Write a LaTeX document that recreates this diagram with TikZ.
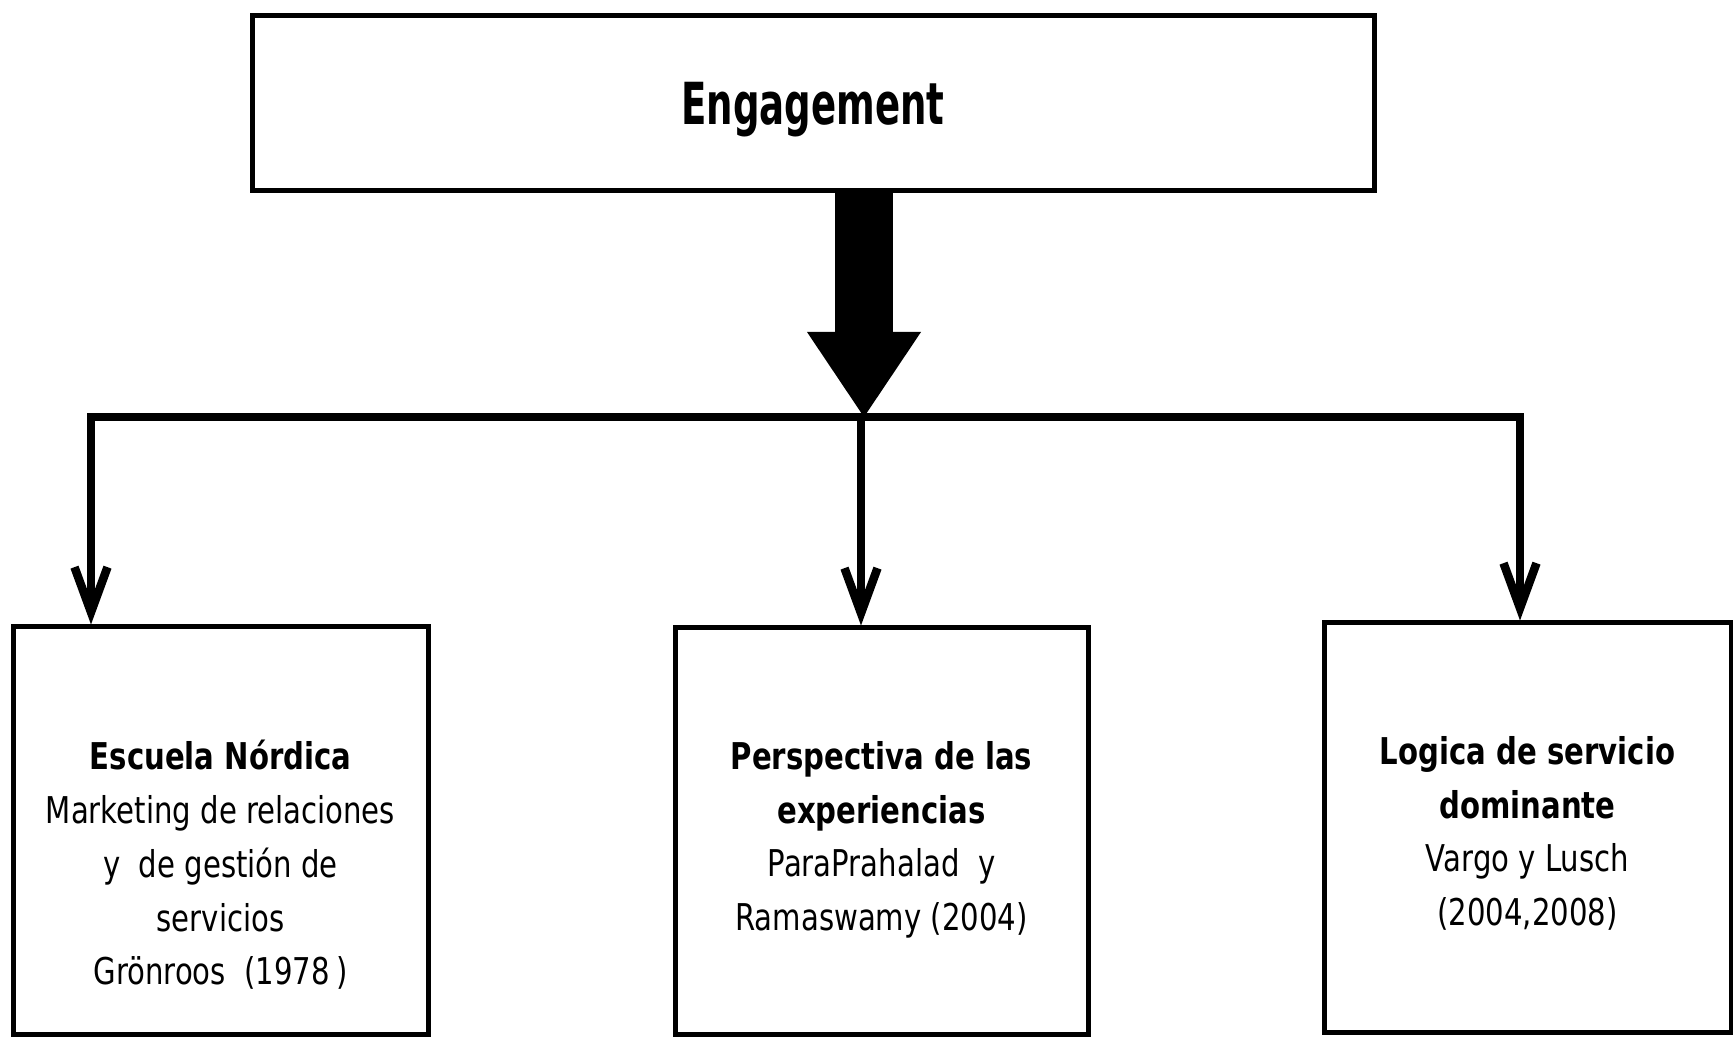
\documentclass[tikz,border=0pt]{standalone}
\usepackage{fontspec}
\newfontfamily\boxfont[FakeStretch=0.79]{DejaVu Sans}
\newfontfamily\titlefont[FakeStretch=0.64]{DejaVu Sans}
\usetikzlibrary{positioning,arrows.meta}
\begin{document}
\begin{tikzpicture}[x=0.1mm, y=-0.1mm,
  box/.style={draw, line width=0.5mm, inner sep=0pt},
  boxtext/.style={font=\boxfont\fontsize{10.5}{15.3}\selectfont, align=center, inner sep=0pt},
  branch/.style={line width=0.85mm, -{Straight Barb[length=4.5mm,width=3.3mm]}}]
  \useasboundingbox (0,0) rectangle (1733,1039);
  \node[box, minimum width=112.2mm, minimum height=17.5mm, text depth=0pt,
        font=\titlefont\bfseries\fontsize{16.5}{20}\selectfont] (engage) at (813,103) {Engagement};
  \foreach \n/\x/\y/\w/\h/\txt in {
    nordica/220.5/831/41.5/40.8/{\textbf{Escuela Nórdica}\\Marketing de relaciones\\y\ \ de gestión de\\servicios\\Grönroos\ \ (1978\,)},
    perspectiva/881.5/831.5/41.3/40.7/{\textbf{Perspectiva de las}\\\textbf{experiencias}\\ParaPrahalad\ \ y\\Ramaswamy (2004)},
    logica/1527.5/828/40.7/41/{\textbf{Logica de servicio}\\\textbf{dominante}\\Vargo y Lusch\\(2004,2008)}} {
    \node[box, minimum width=\w mm, minimum height=\h mm] (\n) at (\x,\y) {};
    \node[boxtext, below=11.5mm of \n.north] (\n-text) {\txt};
  }
  \coordinate (split) at (861,417);
  % thick arrow down to the bar
  \draw[line width=5.8mm, -{Triangle[length=8.5mm,width=11.4mm,line width=0pt]}]
    ([xshift=0.3mm]engage.south -| split) -- ([xshift=0.3mm]split);
  \draw[branch] (split) -| ([xshift=-12.95mm]nordica.north);
  \draw[branch] (split) -- (split |- perspectiva.north);
  \draw[branch] (split) -| ([xshift=-0.75mm]logica.north);
\end{tikzpicture}
\end{document}
